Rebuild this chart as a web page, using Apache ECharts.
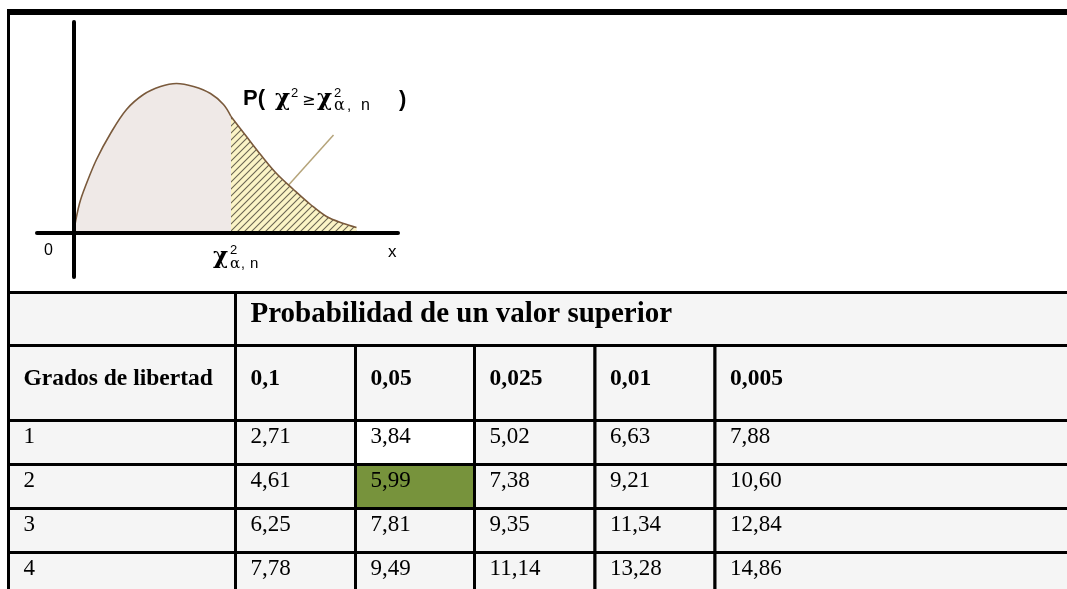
<!DOCTYPE html>
<html>
<head>
<meta charset="utf-8">
<title>Tabla chi-cuadrado</title>
<script src="https://cdn.jsdelivr.net/npm/echarts@6/dist/echarts.min.js"></script>
<style>
  html, body { margin: 0; padding: 0; background: #fff; }
  #chart { width: 1067px; height: 589px; }
</style>
</head>
<body>
<div id="chart"></div>
<script>
// --- data ---
const probLevels = ['0,1', '0,05', '0,025', '0,01', '0,005'];
const degrees    = ['1', '2', '3', '4'];
const crit010    = [2.71, 4.61, 6.25, 7.78];
const crit005    = [3.84, 5.99, 7.81, 9.49];
const crit0025   = [5.02, 7.38, 9.35, 11.14];
const crit001    = [6.63, 9.21, 11.34, 13.28];
const crit0005   = [7.88, 10.60, 12.84, 14.86];

// density sketch (arbitrary units, 1 unit = 10px of the drawing)
const densityX = [0, 0.6, 1.3, 2.3, 3.7, 5.3, 7.0, 8.7, 10.3, 12.0, 13.7, 15.0, 15.75, 17.3, 18.7, 20.3, 22.0, 23.7, 25.3, 27.0, 28.3];
const densityY = [0, 2.9, 4.9, 7.3, 9.9, 12.3, 13.8, 14.6, 14.9, 14.6, 13.9, 12.8, 11.6, 9.6, 7.8, 5.9, 4.3, 2.8, 1.6, 0.9, 0.5];
const cutoffX  = 15.75;

// --- layout (pixels) ---
const colEdges = [8.5, 235.5, 355.5, 474.5, 595, 715, 1090];
const rowEdges = [12, 292.5, 345.5, 420.5, 464.5, 508.5, 552.5, 596.5];
const GREY = '#f5f5f5';

const fmt = v => v.toFixed(2).replace('.', ',');
const columns = [crit010, crit005, crit0025, crit001, crit0005];

// --- table cells ---
const cells = [];
cells.push({ c0: 0, c1: 6, r: 0, text: '', fill: '#fff', frame: true });
cells.push({ c0: 0, c1: 1, r: 1, text: '', fill: GREY });
cells.push({ c0: 1, c1: 6, r: 1, text: 'Probabilidad de un valor superior',
             font: 'bold 29px "Liberation Serif"', dy: 22.4, fill: GREY });
cells.push({ c0: 0, c1: 1, r: 2, text: 'Grados de libertad',
             font: 'bold 23.5px "Liberation Serif"', dy: 33, fill: GREY });
probLevels.forEach((p, i) => {
  cells.push({ c0: i + 1, c1: i + 2, r: 2, text: p,
               font: 'bold 23.5px "Liberation Serif"', dy: 33, fill: GREY });
});
degrees.forEach((d, j) => {
  cells.push({ c0: 0, c1: 1, r: 3 + j, text: d, font: '23px "Liberation Serif"', dy: 16, fill: GREY });
  columns.forEach((col, i) => {
    let fill = GREY;
    if (i === 1 && j === 0) fill = '#ffffff';
    if (i === 1 && j === 1) fill = '#77933c';
    cells.push({ c0: i + 1, c1: i + 2, r: 3 + j, text: fmt(col[j]),
                 font: '23px "Liberation Serif"', dy: 16, fill: fill });
  });
});

function renderCell(params, api) {
  const cell = cells[params.dataIndex];
  const p0 = api.coord([colEdges[cell.c0], rowEdges[cell.r]]);
  const p1 = api.coord([colEdges[cell.c1], rowEdges[cell.r + 1]]);
  const children = [{
    type: 'rect',
    shape: { x: p0[0], y: p0[1], width: p1[0] - p0[0], height: p1[1] - p0[1] },
    style: { fill: cell.fill, stroke: '#000', lineWidth: 3 }
  }];
  if (cell.frame) {
    children.push({
      type: 'line',
      shape: { x1: p0[0] - 1.5, y1: p0[1], x2: p1[0], y2: p0[1] },
      style: { stroke: '#000', lineWidth: 6 }
    });
  }
  if (cell.text) {
    children.push({
      type: 'text',
      x: p0[0] + 15, y: p0[1] + cell.dy,
      style: { text: cell.text, font: cell.font, fill: '#000', verticalAlign: 'middle', align: 'left' }
    });
  }
  return { type: 'group', children: children };
}

// --- hatch fill for the upper tail ---
function hatchPattern() {
  const s = 7;
  const c = document.createElement('canvas');
  c.width = s; c.height = s;
  const g = c.getContext('2d');
  g.fillStyle = '#fbf4c6';
  g.fillRect(0, 0, s, s);
  g.strokeStyle = '#6a6552';
  g.lineWidth = 1.1;
  g.beginPath();
  g.moveTo(-1, s + 1); g.lineTo(s + 1, -1);
  g.moveTo(-1, 1); g.lineTo(1, -1);
  g.moveTo(s - 1, s + 1); g.lineTo(s + 1, s - 1);
  g.stroke();
  return c;
}

const curve = densityX.map((x, i) => [x, densityY[i]]);
const cutIdx = densityX.indexOf(cutoffX);
const bodyPart = curve.slice(0, cutIdx + 1);
const tailPart = curve.slice(cutIdx);

const chart = echarts.init(document.getElementById('chart'), null, { renderer: 'canvas' });

function txt(text, x, y, font) {
  return { type: 'text', x: x, y: y, z: 20,
           style: { text: text, font: font, fill: '#000', verticalAlign: 'middle' } };
}
const CHI = 'bold 23px "DejaVu Serif"';
const SUP = '13px "Liberation Sans"';

chart.setOption({
  animation: false,
  backgroundColor: '#fff',
  grid: [
    { left: 37, top: 22, width: 361, height: 255 },
    { left: 0, top: 0, width: 1067, height: 589 }
  ],
  xAxis: [
    { type: 'value', gridIndex: 0, min: -3.65, max: 32.45, z: 10,
      axisLine: { onZero: true, lineStyle: { color: '#000', width: 4 } },
      axisTick: { show: false }, axisLabel: { show: false }, splitLine: { show: false } },
    { type: 'value', gridIndex: 1, min: 0, max: 1067, show: false }
  ],
  yAxis: [
    { type: 'value', gridIndex: 0, min: -4.45, max: 21.05, z: 10,
      axisLine: { onZero: true, lineStyle: { color: '#000', width: 4 } },
      axisTick: { show: false }, axisLabel: { show: false }, splitLine: { show: false } },
    { type: 'value', gridIndex: 1, min: 0, max: 589, inverse: true, show: false }
  ],
  series: [
    {
      type: 'custom', xAxisIndex: 1, yAxisIndex: 1, z: 1, silent: true, clip: false,
      renderItem: renderCell,
      data: cells.map(c => [colEdges[c.c0], rowEdges[c.r]])
    },
    {
      type: 'line', xAxisIndex: 0, yAxisIndex: 0, z: 5, silent: true,
      data: bodyPart, smooth: 0.35, symbol: 'none',
      lineStyle: { color: '#7a5a3c', width: 1.6 },
      areaStyle: { color: '#efe9e7', opacity: 1 }
    },
    {
      type: 'line', xAxisIndex: 0, yAxisIndex: 0, z: 5, silent: true,
      data: tailPart, smooth: 0.35, symbol: 'none',
      lineStyle: { color: '#7a5a3c', width: 1.6 },
      areaStyle: { color: { image: hatchPattern(), repeat: 'repeat' }, opacity: 1 },
      markLine: {
        silent: true, symbol: ['none', 'none'], label: { show: false },
        data: [
          [ { coord: [cutoffX, 0], lineStyle: { color: '#6b5a45', width: 1, type: 'solid' } },
            { coord: [cutoffX, densityY[cutIdx]] } ],
          [ { coord: [26.0, 9.75], lineStyle: { color: '#b5a47a', width: 1.5, type: 'solid' } },
            { coord: [20.3, 3.4], symbol: 'arrow', symbolSize: 7 } ]
        ]
      }
    }
  ],
  graphic: [
    txt('0', 44, 251, '16px "Liberation Sans"'),
    txt('x', 388, 252, '17px "Liberation Sans"'),
    // label under the axis
    txt('χ', 213, 257.5, CHI),
    txt('2', 230, 250, SUP),
    txt('α', 230, 264, '15px "DejaVu Serif"'),
    txt(',', 241, 264, '14px "Liberation Sans"'),
    txt('n', 250, 264, '15px "Liberation Sans"'),
    // P( chi2 >= chi2_{a,n} )
    txt('P(', 243, 99, 'bold 22px "Liberation Sans"'),
    txt('χ', 275, 99.5, CHI),
    txt('2', 291, 93, SUP),
    txt('≥', 302, 101, '16px "DejaVu Sans"'),
    txt('χ', 317, 99.5, CHI),
    txt('2', 334, 93, SUP),
    txt('α', 334, 106, '16px "DejaVu Serif"'),
    txt(',', 347, 106, '15px "Liberation Sans"'),
    txt('n', 361, 106, '16px "Liberation Sans"'),
    txt(')', 399, 100, 'bold 22px "Liberation Sans"')
  ]
});
</script>
</body>
</html>
